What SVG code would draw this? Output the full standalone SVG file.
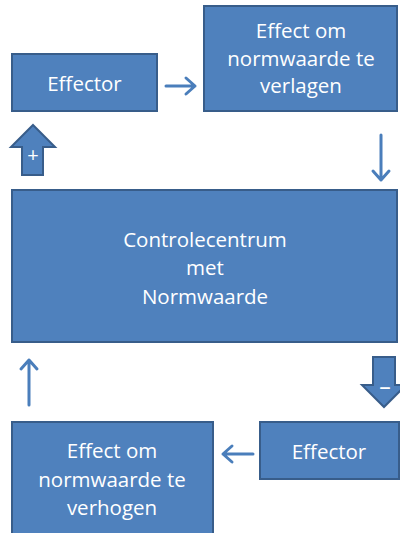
<svg xmlns="http://www.w3.org/2000/svg" width="400" height="533" viewBox="0 0 400 533">
<style>
.box{fill:#4F81BD;stroke:#385D8A;stroke-width:2}
.t{fill:#FFFFFF;font-family:"Open Sans","Liberation Sans",sans-serif;font-size:20.5px;text-anchor:middle}
.s{fill:#FFFFFF;font-family:"Open Sans","Liberation Sans",sans-serif;font-size:20px;text-anchor:middle}
.c{fill:none;stroke:#4A7EBB;stroke-width:3;stroke-linecap:round;stroke-linejoin:round}
</style>
<rect width="400" height="533" fill="#FFFFFF"/>
<g id="effector-top">
<rect class="box" x="12" y="54" width="145" height="57"/>
<text class="t" x="84.5" y="91">Effector</text>
</g>
<g id="effect-verlagen">
<rect class="box" x="204" y="6" width="193" height="105"/>
<text class="t" x="301" y="38">Effect om</text>
<text class="t" x="301" y="66">normwaarde te</text>
<text class="t" x="301" y="93">verlagen</text>
</g>
<g id="controlecentrum">
<rect class="box" x="12" y="190" width="385" height="152"/>
<text class="t" x="205" y="247">Controlecentrum</text>
<text class="t" x="205" y="275">met</text>
<text class="t" x="205" y="304">Normwaarde</text>
</g>
<g id="plus-arrow">
<polygon class="box" points="33,125 55,147 43,147 43,175 22,175 22,147 11,147"/>
<text class="s" x="33" y="162">+</text>
</g>
<g id="minus-arrow">
<polygon class="box" points="373,357 395,357 395,385 406,385 384,407 362,385 373,385"/>
<text class="s" x="385" y="395" style="font-size:23px">–</text>
</g>
<g id="effector-bottom">
<rect class="box" x="260" y="422" width="139" height="57"/>
<text class="t" x="329" y="459">Effector</text>
</g>
<g id="effect-verhogen">
<rect class="box" x="12" y="422" width="201" height="120"/>
<text class="t" x="112" y="458">Effect om</text>
<text class="t" x="112" y="487">normwaarde te</text>
<text class="t" x="112" y="515">verhogen</text>
</g>
<g id="connectors">
<path class="c" d="M166,86 H195 M186,78 L195,86 L186,94"/>
<path class="c" d="M381,135 V180 M373,171 L381,180 L389,171"/>
<path class="c" d="M253,454 H223 M232,446 L223,454 L232,462"/>
<path class="c" d="M29,405 V360 M21,369 L29,360 L37,369"/>
</g>
</svg>
